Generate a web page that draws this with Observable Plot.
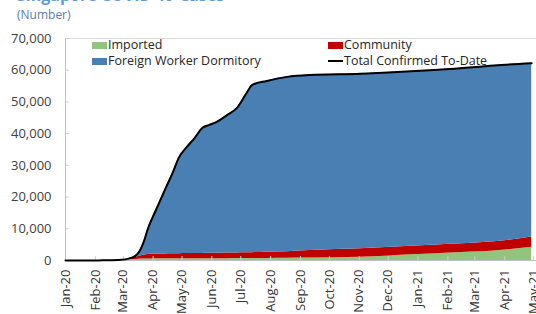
<!DOCTYPE html>
<html><head><meta charset="utf-8">
<script src="https://cdn.jsdelivr.net/npm/d3@7"></script>
<script src="https://cdn.jsdelivr.net/npm/@observablehq/plot@0.6"></script>
<style>
body{margin:0;background:#fff;font-family:"Open Sans",sans-serif;}
#wrap{position:relative;width:536px;height:314px;overflow:hidden;}
.t{position:absolute;white-space:nowrap;}
.key{position:absolute;}
.lab{position:absolute;white-space:nowrap;font-size:12.5px;line-height:16px;color:#262626;}
</style></head><body><div id="wrap"></div>
<script>
const dates = ["2020-01-01","2020-01-23","2020-02-04","2020-02-25","2020-03-10","2020-03-17","2020-03-22","2020-03-27","2020-03-31","2020-04-07","2020-04-14","2020-04-21","2020-04-28","2020-05-06","2020-05-14","2020-05-22","2020-05-29","2020-06-06","2020-06-17","2020-06-27","2020-07-07","2020-07-13","2020-07-28","2020-08-18","2020-09-11","2020-11-02","2020-12-25","2021-02-04","2021-03-21","2021-04-29"];
const total = [0,0,30,120,900,2500,5700,10400,13300,18000,22800,27500,32600,35800,38600,41800,42700,43700,45900,48100,52800,55400,56600,57900,58500,58900,59700,60400,61500,62200];
const imported = [0,0,20,40,300,400,450,500,500,520,530,540,550,560,560,570,570,580,590,600,610,620,640,680,750,1000,1800,2400,3000,4200];
const community = [0,0,10,80,500,900,1200,1400,1450,1500,1550,1580,1600,1620,1640,1660,1680,1700,1740,1780,1830,1860,1950,2100,2400,2700,2700,2700,2900,3200];
const seriesNames = ["Imported","Community","Foreign Worker Dormitory"];
const seriesColors = ["#93c47d","#c00000","#4a7fb4"];
const lineName = "Total Confirmed To-Date";
const yTicks = [0,10000,20000,30000,40000,50000,60000,70000];
const monthTicks = ["2020-01-01","2020-02-01","2020-03-01","2020-04-01","2020-05-01","2020-06-01","2020-07-01","2020-08-01","2020-09-01","2020-10-01","2020-11-01","2020-12-01","2021-01-01","2021-02-01","2021-03-01","2021-04-01","2021-05-01"];
const titleText = "Singapore COVID-19 Cases";
const subtitleText = "(Number)";

const parse = d3.utcParse("%Y-%m-%d");
const rows = dates.map((d,i)=>({date:parse(d), total:total[i], imported:imported[i], community:community[i], dorm:total[i]-imported[i]-community[i]}));
const long = rows.flatMap(r=>[
  {date:r.date, series:seriesNames[0], value:r.imported},
  {date:r.date, series:seriesNames[1], value:r.community},
  {date:r.date, series:seriesNames[2], value:r.dorm}
]);
const mt = monthTicks.map(parse);
const x0 = parse("2020-01-01"), x1 = parse("2021-05-04");

const chart = Plot.plot({
  width:536, height:314, marginTop:38, marginBottom:54, marginLeft:65, marginRight:0,
  style:{fontFamily:"Open Sans", fontSize:"13px", color:"#404040", background:"transparent", overflow:"visible"},
  x:{type:"utc", domain:[x0,x1], label:null},
  y:{domain:[0,70000], label:null},
  color:{domain:seriesNames, range:seriesColors},
  marks:[
    Plot.ruleY([70000],{stroke:"#d9d9d9"}),
    Plot.areaY(long,{x:"date", y:"value", fill:"series", order:seriesNames, curve:"monotone-x"}),
    Plot.axisX({ticks:mt, tickSize:-4, stroke:"#d0d0d0", tickFormat:()=>""}),
    Plot.axisY({ticks:yTicks, tickSize:-4, stroke:"#d0d0d0", tickFormat:()=>""}),
    Plot.ruleX([x0],{stroke:"#bfbfbf"}),
    Plot.ruleY([0],{stroke:"#bfbfbf"}),
    Plot.lineY(rows,{x:"date", y:"total", stroke:"#000", strokeWidth:2, curve:"monotone-x"}),
    Plot.axisY({ticks:yTicks, tickFormat:d3.format(","), tickSize:0, tickPadding:14, fontSize:13, fill:"#404040"}),
    Plot.axisX({ticks:mt, tickFormat:d3.utcFormat("%b-%y"), tickRotate:-90, tickSize:0, tickPadding:9, fontSize:13, fill:"#333"})
  ]
});
const wrap = document.getElementById("wrap");
wrap.appendChild(chart);

function add(html, css){const d=document.createElement("div");d.className="t";d.textContent=html;Object.assign(d.style,css);wrap.appendChild(d);return d;}
add(titleText,{left:"17px", top:"-14px", fontSize:"16px", lineHeight:"18px", fontWeight:"700", color:"#5b9bd5"});
add(subtitleText,{left:"17px", top:"7px", fontSize:"12px", lineHeight:"16px", color:"#5a7ea6"});

const items = [
  {name:seriesNames[0], color:seriesColors[0], kx:92, tx:108, cy:45, type:"rect"},
  {name:seriesNames[1], color:seriesColors[1], kx:328, tx:344, cy:45, type:"rect"},
  {name:seriesNames[2], color:seriesColors[2], kx:92, tx:108, cy:61, type:"rect"},
  {name:lineName, color:"#000", kx:328, tx:344, cy:61, type:"line"}
];
for(const it of items){
  const k=document.createElement("div");k.className="key";
  if(it.type==="rect") Object.assign(k.style,{left:it.kx+"px", top:(it.cy-3.5)+"px", width:"15px", height:"7px", background:it.color});
  else Object.assign(k.style,{left:it.kx+"px", top:(it.cy-1)+"px", width:"15px", height:"2px", background:it.color});
  wrap.appendChild(k);
  const l=document.createElement("div");l.className="lab";l.textContent=it.name;
  Object.assign(l.style,{left:it.tx+"px", top:(it.cy-8)+"px"});
  wrap.appendChild(l);
}
</script></body></html>
